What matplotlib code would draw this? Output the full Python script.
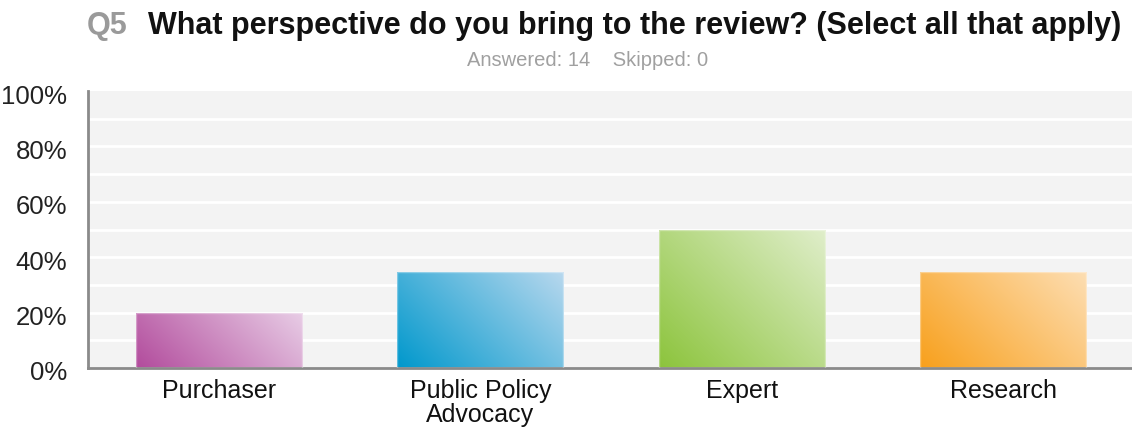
import numpy as np
import matplotlib
matplotlib.use("Agg")
import matplotlib.pyplot as plt
from matplotlib.colors import to_rgb
from matplotlib.transforms import ScaledTranslation

# Survey results
categories = ["Purchaser", "Public Policy\nAdvocacy", "Expert", "Research"]
percentages = [20.0, 34.5, 50.0, 34.5]
y_ticks = [0, 20, 40, 60, 80, 100]
y_tick_labels = ["0%", "20%", "40%", "60%", "80%", "100%"]
dark_colors = ["#b24b9c", "#0098cc", "#8cc43c", "#f8a01c"]
light_colors = ["#e8cde6", "#b8d8ee", "#e0eecb", "#fddeb3"]

question_id = "Q5"
question_text = "What perspective do you bring to the review? (Select all that apply)"
answered_text = "Answered: 14    Skipped: 0"

plt.rcParams["font.family"] = ["Liberation Sans", "DejaVu Sans"]

W, H, DPI = 1132, 429, 100
fig = plt.figure(figsize=(W / DPI, H / DPI), dpi=DPI)
ax = fig.add_axes([88 / W, 1 - 368 / H, (1134 - 88) / W, (368 - 91) / H])
ax.set_facecolor("#f3f3f3")

for v in range(10, 100, 10):
    ax.axhline(v, color="white", lw=2, zorder=1)

x = np.arange(len(categories))
bars = ax.bar(x, percentages, width=0.635, color="none",
              edgecolor=(1, 1, 1, 0.35), lw=1, zorder=3)
ax.set_xlim(-0.5, 3.5)
ax.set_ylim(0, 100)

# diagonal gradient fill inside each bar
fig.canvas.draw()
for bar, c0, c1 in zip(bars, dark_colors, light_colors):
    x0, y0 = bar.get_x(), bar.get_y()
    w, h = bar.get_width(), bar.get_height()
    (px0, py0), (px1, py1) = ax.transData.transform([(x0, y0), (x0 + w, y0 + h)])
    wp, hp = px1 - px0, py1 - py0
    nx, ny = int(wp) + 2, int(hp) + 2
    X, Y = np.meshgrid(np.linspace(0, wp, nx), np.linspace(0, hp, ny))
    t = (X + Y) / (wp + hp)
    rgb = (1 - t)[..., None] * np.array(to_rgb(c0)) + t[..., None] * np.array(to_rgb(c1))
    im = ax.imshow(rgb, extent=(x0, x0 + w, y0, y0 + h), origin="lower",
                   aspect="auto", zorder=2, interpolation="bilinear")
    im.set_clip_path(bar)

ax.set_xlim(-0.5, 3.5)
ax.set_ylim(0, 100)

for side in ("top", "right"):
    ax.spines[side].set_visible(False)
for side in ("left", "bottom"):
    ax.spines[side].set_color("#8a8a8a")
    ax.spines[side].set_linewidth(2)

ax.set_yticks(y_ticks)
ax.set_yticklabels(y_tick_labels, fontsize=18.5, color="#222222")
ax.set_xticks(x)
ax.set_xticklabels(categories, fontsize=18, color="#111111", linespacing=1.0)
ax.tick_params(axis="both", length=0)
ax.tick_params(axis="y", pad=15)
ax.tick_params(axis="x", pad=8)
for lbl in ax.get_yticklabels():
    lbl.set_transform(lbl.get_transform() + ScaledTranslation(0, -3 / DPI, fig.dpi_scale_trans))

fig.text(87 / W, 1 - 34 / H, question_id, fontsize=22, color="#9a9a9a",
         fontweight="bold", ha="left", va="baseline")
fig.text(148 / W, 1 - 34 / H, question_text, fontsize=22, color="#111111",
         fontweight="bold", ha="left", va="baseline")
fig.text(588 / W, 1 - 66 / H, answered_text, fontsize=14.5, color="#a0a0a0",
         ha="center", va="baseline")

fig.savefig("out.png", dpi=DPI)
